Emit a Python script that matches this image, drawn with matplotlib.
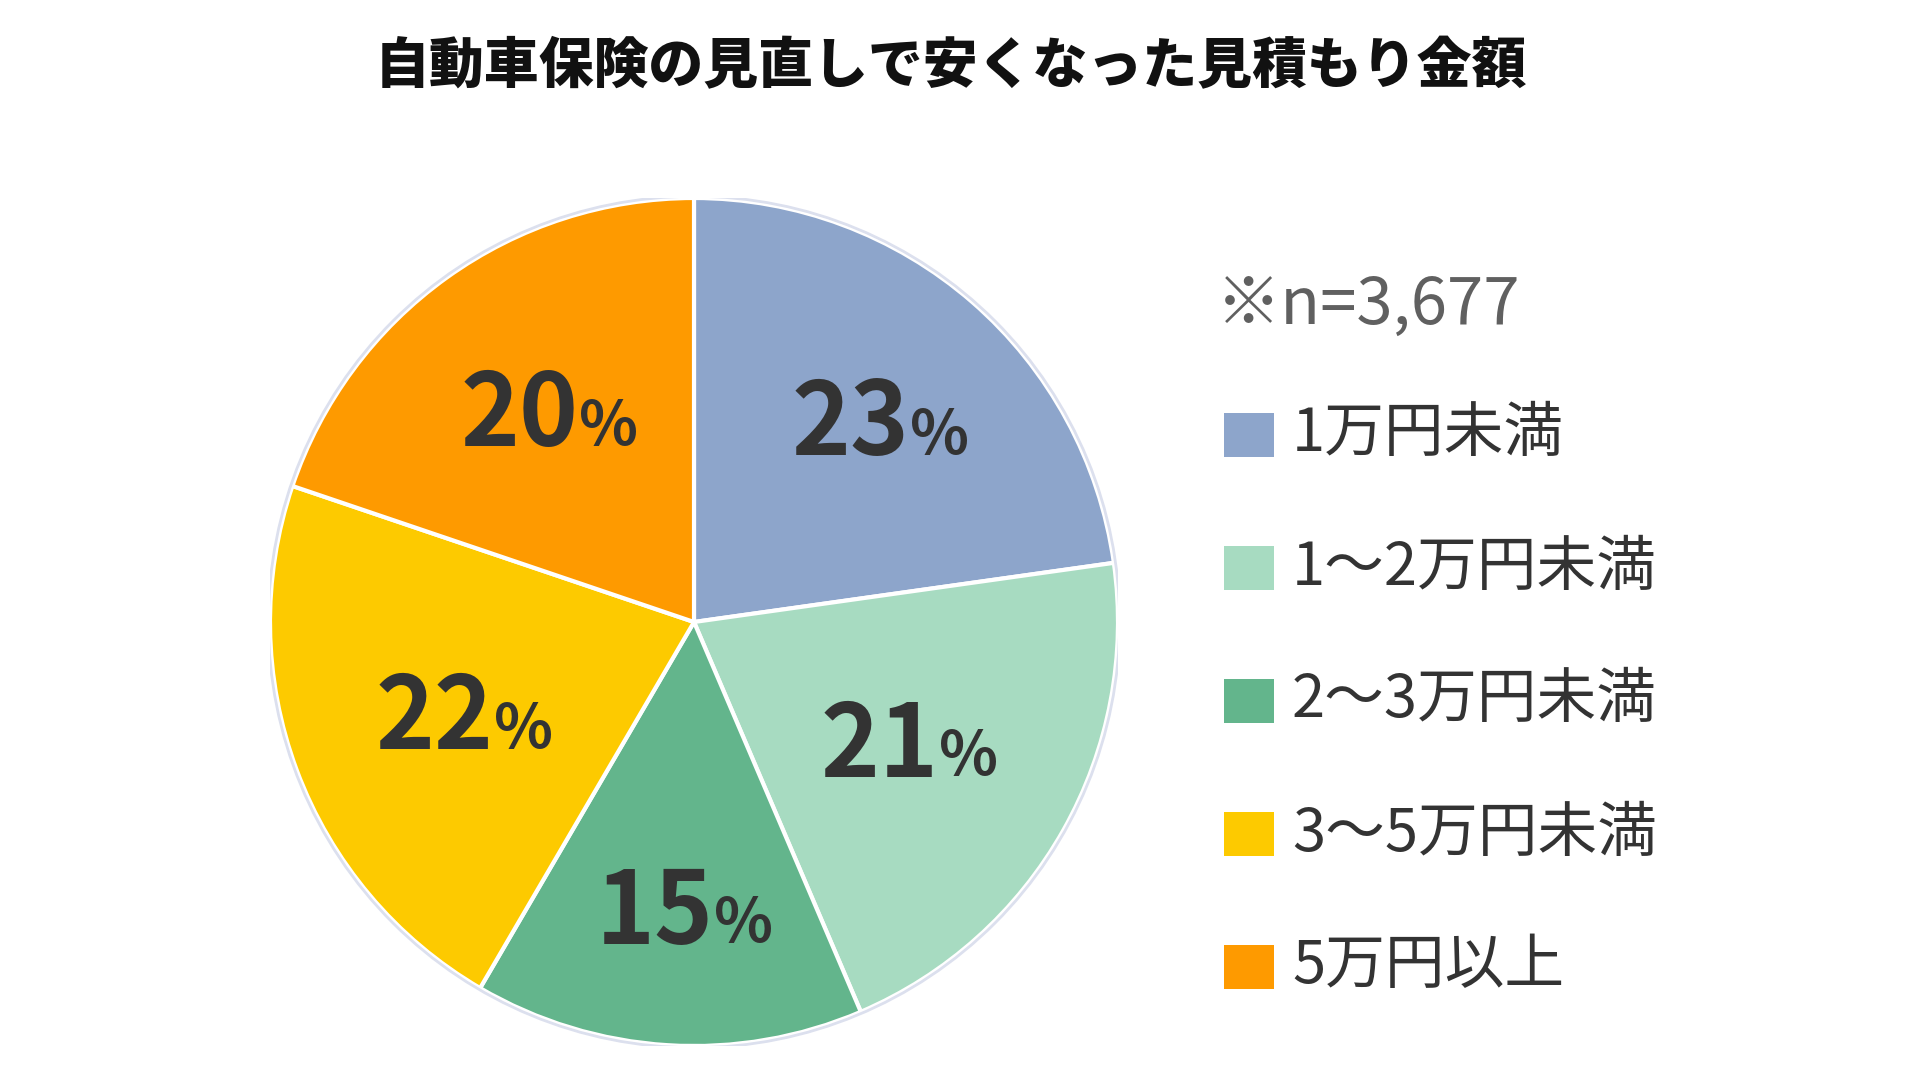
import matplotlib.pyplot as plt
from matplotlib.patches import Rectangle, Circle
import numpy as np

plt.rcParams['font.family'] = ['Noto Sans CJK JP', 'DejaVu Sans']

title = "自動車保険の見直しで安くなった見積もり金額"
note = "※n=3,677"
categories = ["1万円未満", "1～2万円未満", "2～3万円未満", "3～5万円未満", "5万円以上"]
values = [23, 21, 15, 22, 20]
colors = ["#8DA5CB", "#A7DBC1", "#63B58C", "#FDCA00", "#FE9A00"]

W, H = 1920, 1080
fig = plt.figure(figsize=(W / 100, H / 100), dpi=100)
fig.patch.set_facecolor("white")

# pie axes
cx, cy, r = 694, 622, 424
ax = fig.add_axes([(cx - r) / W, (H - cy - r) / H, 2 * r / W, 2 * r / H])

wedges, _ = ax.pie(values, colors=colors, startangle=90, counterclock=False,
                   radius=1.0, wedgeprops=dict(edgecolor="white", linewidth=3))
ax.add_patch(Circle((0, 0), 1.004, fill=False, edgecolor="#DCE0EE", linewidth=2))
ax.set_xlim(-1.0, 1.0)
ax.set_ylim(-1.0, 1.0)
ax.set_aspect("equal")
ax.axis("off")

# label distance from centre, per slice
label_r = [0.64, 0.56, 0.67, 0.60, 0.62]
for w, v, lr in zip(wedges, values, label_r):
    mid = np.deg2rad((w.theta1 + w.theta2) / 2)
    x, y = lr * np.cos(mid), lr * np.sin(mid)
    t = ax.text(x - 0.05, y - 0.02, str(v), ha="center", va="center", fontsize=72,
                fontweight="bold", color="#333333")
    ax.annotate("%", xy=(1.0, 0.1), xycoords=t, ha="left", va="bottom",
                fontsize=44, fontweight="bold", color="#333333")

# overlay for title and legend, pixel coordinates
ov = fig.add_axes([0, 0, 1, 1])
ov.set_xlim(0, W)
ov.set_ylim(H, 0)
ov.axis("off")
ov.patch.set_alpha(0)

ov.text(951, 67, title, ha="center", va="center", fontsize=39.5,
        fontweight="heavy", color="#111111")
ov.text(1216, 306, note, ha="left", va="center", fontsize=47, color="#606060")

row_y = 435
for cat, col in zip(categories, colors):
    ov.add_patch(Rectangle((1224, row_y - 22), 50, 44, facecolor=col, edgecolor="none"))
    ov.text(1292, row_y, cat, ha="left", va="center", fontsize=43, color="#333333")
    row_y += 133

fig.savefig("out.png", dpi=100)
